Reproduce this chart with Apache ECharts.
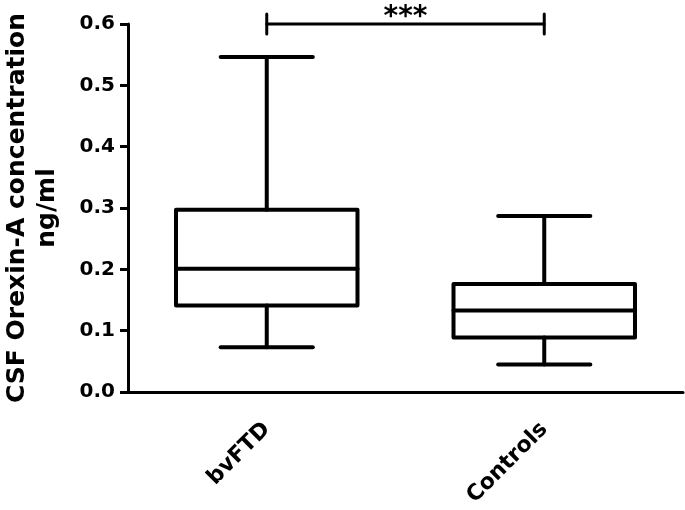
<!DOCTYPE html>
<html>
<head>
<meta charset="utf-8">
<script src="https://cdn.jsdelivr.net/npm/echarts@6/dist/echarts.min.js"></script>
<style>
  html, body { margin: 0; padding: 0; background: #fff; }
  #chart { width: 685px; height: 510px; }
</style>
</head>
<body>
<div id="chart"></div>
<script>
const categories = ['bvFTD', 'Controls'];
const whiskerLow = [0.073, 0.045];
const q1 = [0.141, 0.089];
const median = [0.201, 0.133];
const q3 = [0.297, 0.176];
const whiskerHigh = [0.546, 0.287];
const yTicks = { min: 0, max: 0.6, interval: 0.1 };
// significance bracket: from group, to group, height, label
const sigBracket = [[0, 1, 0.6, '***']];

const FONT = '"DejaVu Sans", sans-serif';
const chart = echarts.init(document.getElementById('chart'));

const boxData = categories.map((c, i) => [i, whiskerLow[i], q1[i], median[i], q3[i], whiskerHigh[i]]);

function renderBox(params, api) {
  const idx = api.value(0);
  const bandW = api.size([1, 0])[0];
  const half = bandW * 0.327;
  const capHalf = bandW * 0.166;
  const pLow = api.coord([idx, api.value(1)]);
  const pQ1 = api.coord([idx, api.value(2)]);
  const pMed = api.coord([idx, api.value(3)]);
  const pQ3 = api.coord([idx, api.value(4)]);
  const pHigh = api.coord([idx, api.value(5)]);
  const cx = pMed[0];
  const st = { stroke: '#000', lineWidth: 4, fill: null, lineCap: 'round', lineJoin: 'round' };
  return {
    type: 'group',
    children: [
      { type: 'rect', shape: { x: cx - half, y: pQ3[1], width: half * 2, height: pQ1[1] - pQ3[1] }, style: Object.assign({}, st, { fill: '#fff' }) },
      { type: 'line', shape: { x1: cx - half, y1: pMed[1], x2: cx + half, y2: pMed[1] }, style: st },
      { type: 'line', shape: { x1: cx, y1: pQ3[1], x2: cx, y2: pHigh[1] }, style: st },
      { type: 'line', shape: { x1: cx, y1: pQ1[1], x2: cx, y2: pLow[1] }, style: st },
      { type: 'line', shape: { x1: cx - capHalf, y1: pHigh[1], x2: cx + capHalf, y2: pHigh[1] }, style: st },
      { type: 'line', shape: { x1: cx - capHalf, y1: pLow[1], x2: cx + capHalf, y2: pLow[1] }, style: st }
    ]
  };
}

function renderBracket(params, api) {
  const a = api.coord([api.value(0), api.value(2)]);
  const b = api.coord([api.value(1), api.value(2)]);
  const label = sigBracket[params.dataIndex][3];
  const st = { stroke: '#000', lineWidth: 3, lineCap: 'round' };
  return {
    type: 'group',
    children: [
      { type: 'line', shape: { x1: a[0], y1: a[1], x2: b[0], y2: b[1] }, style: st },
      { type: 'line', shape: { x1: a[0], y1: a[1] - 10, x2: a[0], y2: a[1] + 10 }, style: st },
      { type: 'line', shape: { x1: b[0], y1: b[1] - 10, x2: b[0], y2: b[1] + 10 }, style: st },
      { type: 'text', style: { x: (a[0] + b[0]) / 2, y: a[1] - 20, text: label, fill: '#000', font: 'bold 28px ' + FONT, align: 'center', verticalAlign: 'top' } }
    ]
  };
}

chart.setOption({
  animation: false,
  backgroundColor: '#fff',
  grid: { left: 128, right: 2, top: 24, bottom: 118, outerBoundsMode: 'none' },
  xAxis: {
    type: 'category',
    data: categories,
    axisLine: { lineStyle: { color: '#000', width: 3 } },
    axisTick: { alignWithLabel: true, length: 8, lineStyle: { color: '#000', width: 3 } },
    axisLabel: { rotate: 45, margin: 34, color: '#000', fontFamily: FONT, fontWeight: 'bold', fontSize: 22 },
    splitLine: { show: false }
  },
  yAxis: {
    type: 'value',
    min: yTicks.min,
    max: yTicks.max,
    interval: yTicks.interval,
    name: 'CSF Orexin-A concentration\nng/ml',
    nameLocation: 'middle',
    nameGap: 66,
    nameTextStyle: { color: '#000', fontFamily: FONT, fontWeight: 'bold', fontSize: 25, lineHeight: 30, align: 'center' },
    axisLine: { show: true, lineStyle: { color: '#000', width: 3 } },
    axisTick: { show: true, length: 8, lineStyle: { color: '#000', width: 3 } },
    axisLabel: { margin: 13, color: '#000', fontFamily: FONT, fontWeight: 'bold', fontSize: 20, formatter: v => v.toFixed(1) },
    splitLine: { show: false }
  },
  series: [
    { type: 'custom', data: boxData, renderItem: renderBox, clip: false, encode: { x: 0, y: [1, 5] } },
    { type: 'custom', data: sigBracket.map(d => [d[0], d[1], d[2]]), renderItem: renderBracket, clip: false, encode: { x: [0, 1], y: 2 } }
  ]
});
</script>
</body>
</html>
